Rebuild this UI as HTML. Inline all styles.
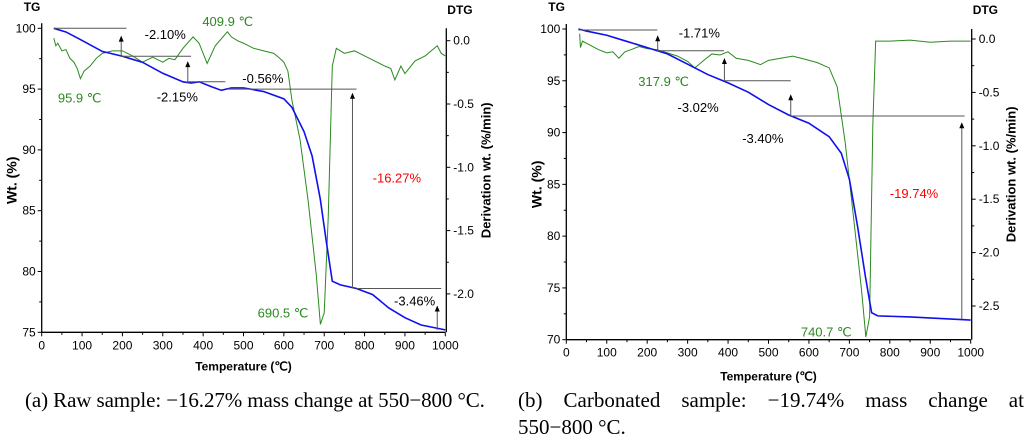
<!DOCTYPE html>
<html><head><meta charset="utf-8"><style>
body{margin:0;background:#fff;width:1024px;height:433px;overflow:hidden}
svg{font-family:"Liberation Sans",Arial,sans-serif}
.cap{position:absolute;font-family:"Liberation Serif",serif;font-size:21px;line-height:24px;color:#000;white-space:nowrap}
</style></head><body>
<svg id="s" width="1024" height="433" style="position:absolute;left:0;top:0"></svg>
<div class="cap" style="left:25px;top:388px;letter-spacing:-0.1px">(a) Raw sample: −16.27% mass change at 550−800 °C.</div>
<div class="cap" style="left:518px;top:388px;width:506px;display:flex;justify-content:space-between"><span>(b)</span><span>Carbonated</span><span>sample:</span><span>−19.74%</span><span>mass</span><span>change</span><span>at</span></div>
<div class="cap" style="left:518px;top:415px">550−800 °C.</div>
<script>
const aTgT=[30,60,100,150,200,250,300,350,370,390,420,445,470,500,550,600,620,650,670,690,705,720,740,780,820,860,900,940,1000];
const aTgW=[100,99.7,99,98.1,97.7,97.2,96.3,95.6,95.5,95.6,95.2,94.9,95.1,95.1,94.8,94.2,93.5,91.5,89.5,86,82.5,79.2,78.9,78.6,78.1,77,76.2,75.6,75.2];
const aDtT=[30,35,40,50,60,70,80,88,95.9,105,120,135,150,175,200,225,250,275,300,315,330,350,375,390,409.9,430,460,470,485,500,525,550,575,590,600,610,620,640,660,680,690.5,700,710,720,730,750,775,800,825,850,865,875,890,900,925,950,965,980,990,1000];
const aDtV=[0.02,-0.04,-0.02,-0.08,-0.07,-0.14,-0.17,-0.22,-0.30,-0.24,-0.2,-0.14,-0.1,-0.08,-0.08,-0.12,-0.17,-0.13,-0.17,-0.14,-0.15,-0.06,0.03,-0.02,-0.18,-0.04,0.07,0.03,0.0,-0.02,-0.06,-0.08,-0.1,-0.14,-0.17,-0.24,-0.47,-0.78,-1.26,-1.84,-2.24,-2.15,-1.39,-0.2,-0.06,-0.1,-0.08,-0.12,-0.16,-0.2,-0.22,-0.31,-0.2,-0.26,-0.16,-0.12,-0.08,-0.04,-0.1,-0.12];
const bTgT=[30,50,100,150,200,250,300,350,400,450,500,550,600,650,680,700,720,740,755,770,850,1000];
const bTgW=[100,99.8,99.4,98.8,98.2,97.6,96.6,95.6,94.8,93.9,92.7,91.7,90.9,89.6,88,85.5,81,76,72.6,72.3,72.2,71.9];
const bDtT=[33,35,40,60,80,100,115,130,145,160,180,200,225,250,275,300,317.9,340,360,380,400,420,450,480,500,530,560,590,620,650,670,690,710,730,740.7,750,758,765,800,850,900,950,1000];
const bDtV=[0.05,-0.08,-0.02,-0.06,-0.1,-0.13,-0.12,-0.18,-0.12,-0.1,-0.07,-0.09,-0.1,-0.13,-0.16,-0.21,-0.27,-0.2,-0.14,-0.15,-0.12,-0.18,-0.2,-0.24,-0.2,-0.18,-0.16,-0.19,-0.22,-0.27,-0.45,-0.98,-1.66,-2.35,-2.79,-2.6,-0.8,-0.02,-0.02,-0.01,-0.03,-0.02,-0.02];
const aYTicks=[75,80,85,90,95,100], aDTicks=[0,-0.5,-1,-1.5,-2];
const bYTicks=[70,75,80,85,90,95,100], bDTicks=[0,-0.5,-1,-1.5,-2,-2.5];
const xTicks=[0,100,200,300,400,500,600,700,800,900,1000];
const svg=document.getElementById('s'),NS='http://www.w3.org/2000/svg';
function el(t,a,txt){const e=document.createElementNS(NS,t);for(const k in a)e.setAttribute(k,a[k]);if(txt!==undefined)e.textContent=txt;svg.appendChild(e);return e;}
function chart(c){
 const X=t=>c.x0+(t)/1000*(c.x1-c.x0);
 const Y=w=>c.yTop+(c.wMax-w)/(c.wMax-c.wMin)*(c.yBot-c.yTop);
 const D=v=>c.d0+(-v)/0.5*c.dStep;
 let e=el('line',{x1:c.x0,y1:c.yTop-5,x2:c.x0,y2:c.yBot,stroke:'#000','stroke-width':1.3});
 
 e=el('line',{x1:c.x0,y1:c.yBot,x2:c.x1,y2:c.yBot,stroke:'#000','stroke-width':1.3});
 
 e=el('line',{x1:c.x1+1,y1:c.yTop,x2:c.x1+1,y2:c.yBot,stroke:'#000','stroke-width':1.3});
 
 xTicks.forEach((t,i)=>{el('line',{x1:X(t),y1:c.yBot,x2:X(t),y2:c.yBot+4,stroke:'#000'});
  if(i<10)el('line',{x1:X(t+50),y1:c.yBot,x2:X(t+50),y2:c.yBot+2.5,stroke:'#000'});
  e=el('text',{x:X(t),y:c.yBot+17,'font-size':12,'text-anchor':'middle'},t);
  });
 c.yt.forEach((w,i)=>{el('line',{x1:c.x0-4,y1:Y(w),x2:c.x0,y2:Y(w),stroke:'#000'});
  if(i<c.yt.length-1)el('line',{x1:c.x0-2.5,y1:Y(w+2.5),x2:c.x0,y2:Y(w+2.5),stroke:'#000'});
  e=el('text',{x:c.x0-6,y:Y(w)+4,'font-size':12,'text-anchor':'end'},w);
  });
 c.dt.forEach((v,i)=>{el('line',{x1:c.x1+1,y1:D(v),x2:c.x1+5,y2:D(v),stroke:'#000'});
  if(i<c.dt.length-1)el('line',{x1:c.x1+1,y1:D(v-0.25),x2:c.x1+3.5,y2:D(v-0.25),stroke:'#000'});
  e=el('text',{x:c.x1+8,y:D(v)+4,'font-size':12},v.toFixed(1));
  });
 e=el('text',{x:(c.x0+c.x1)/2,y:c.yBot+c.tOff,'font-size':12,'font-weight':'bold','text-anchor':'middle'},'Temperature (℃)');
 
 e=el('text',{x:0,y:0,'font-size':14,'font-weight':'bold','text-anchor':'middle',transform:`translate(${c.x0-25},${(c.yTop+c.yBot)/2}) rotate(-90)`},'Wt. (%)');
 
 e=el('text',{x:0,y:0,'font-size':13,'font-weight':'bold','text-anchor':'middle',transform:`translate(${c.x1+45},${(c.yTop+c.yBot)/2-10}) rotate(-90)`},'Derivation wt. (%/min)');
 
 e=el('text',{x:c.x0-18,y:11,'font-size':12,'font-weight':'bold'},'TG');
 
 e=el('text',{x:c.x1+2,y:14,'font-size':12,'font-weight':'bold'},'DTG');
 
 e=el('polyline',{points:c.dT.map((t,i)=>X(t)+','+D(c.dV[i])).join(' '),fill:'none',stroke:'#2a8a1e','stroke-width':1});
 
 e=el('polyline',{points:c.tT.map((t,i)=>X(t)+','+Y(c.tW[i])).join(' '),fill:'none',stroke:'#1010ee','stroke-width':1.6});
 
 c.hl.forEach(h=>el('line',{x1:X(h[0]),y1:Y(h[2]),x2:X(h[1]),y2:Y(h[2]),stroke:'#555','stroke-width':1}));
 c.ar.forEach(a=>{el('line',{x1:X(a[0]),y1:Y(a[1]),x2:X(a[0]),y2:Y(a[2])+3,stroke:'#555','stroke-width':1});
  el('polygon',{points:`${X(a[0])-2.5},${Y(a[2])+6} ${X(a[0])+2.5},${Y(a[2])+6} ${X(a[0])},${Y(a[2])}`,fill:'#000'});});
 c.lb.forEach(l=>{e=el('text',{x:X(l[0]),y:Y(l[1]),'font-size':13,fill:l[3]},l[2]);
  });
}
chart({p:'a',x0:41.7,x1:445.3,yTop:28.3,yBot:332.3,wMax:100,wMin:75,d0:40.7,dStep:63.3,yt:aYTicks,dt:aDTicks,tOff:38,
 tT:aTgT,tW:aTgW,dT:aDtT,dV:aDtV,
 hl:[[30,210,100],[195,370,97.7],[360,455,95.6],[460,780,95],[780,990,78.6]],
 ar:[[197,97.7,99.4],[362,95.5,97.3],[770,78.6,94.7],[980,75.2,77.2]],
 lb:[[255,99.1,'-2.10%','#000'],[398,100.2,'409.9 ℃','#2a8a1e'],[40,93.9,'95.9 ℃','#2a8a1e'],[285,94,'-2.15%','#000'],[497,95.5,'-0.56%','#000'],[820,87.3,'-16.27%','#f00'],[535,76.2,'690.5 ℃','#2a8a1e'],[873,77.2,'-3.46%','#000']]});
chart({p:'b',x0:566.3,x1:970.7,yTop:29,yBot:339.7,wMax:100,wMin:70,d0:39,dStep:53.4,yt:bYTicks,dt:bDTicks,tOff:41,
 tT:bTgT,tW:bTgW,dT:bDtT,dV:bDtV,
 hl:[[30,225,99.9],[225,390,97.9],[390,555,95],[555,985,91.6]],
 ar:[[226,97.9,99.4],[391,95,97.2],[555,91.6,93.7],[978,72,91]],
 lb:[[278,99.2,'-1.71%','#000'],[178,94.5,'317.9 ℃','#2a8a1e'],[275,92,'-3.02%','#000'],[435,89,'-3.40%','#000'],[800,83.7,'-19.74%','#f00'],[580,70.3,'740.7 ℃','#2a8a1e']]});
</script>
</body></html>
